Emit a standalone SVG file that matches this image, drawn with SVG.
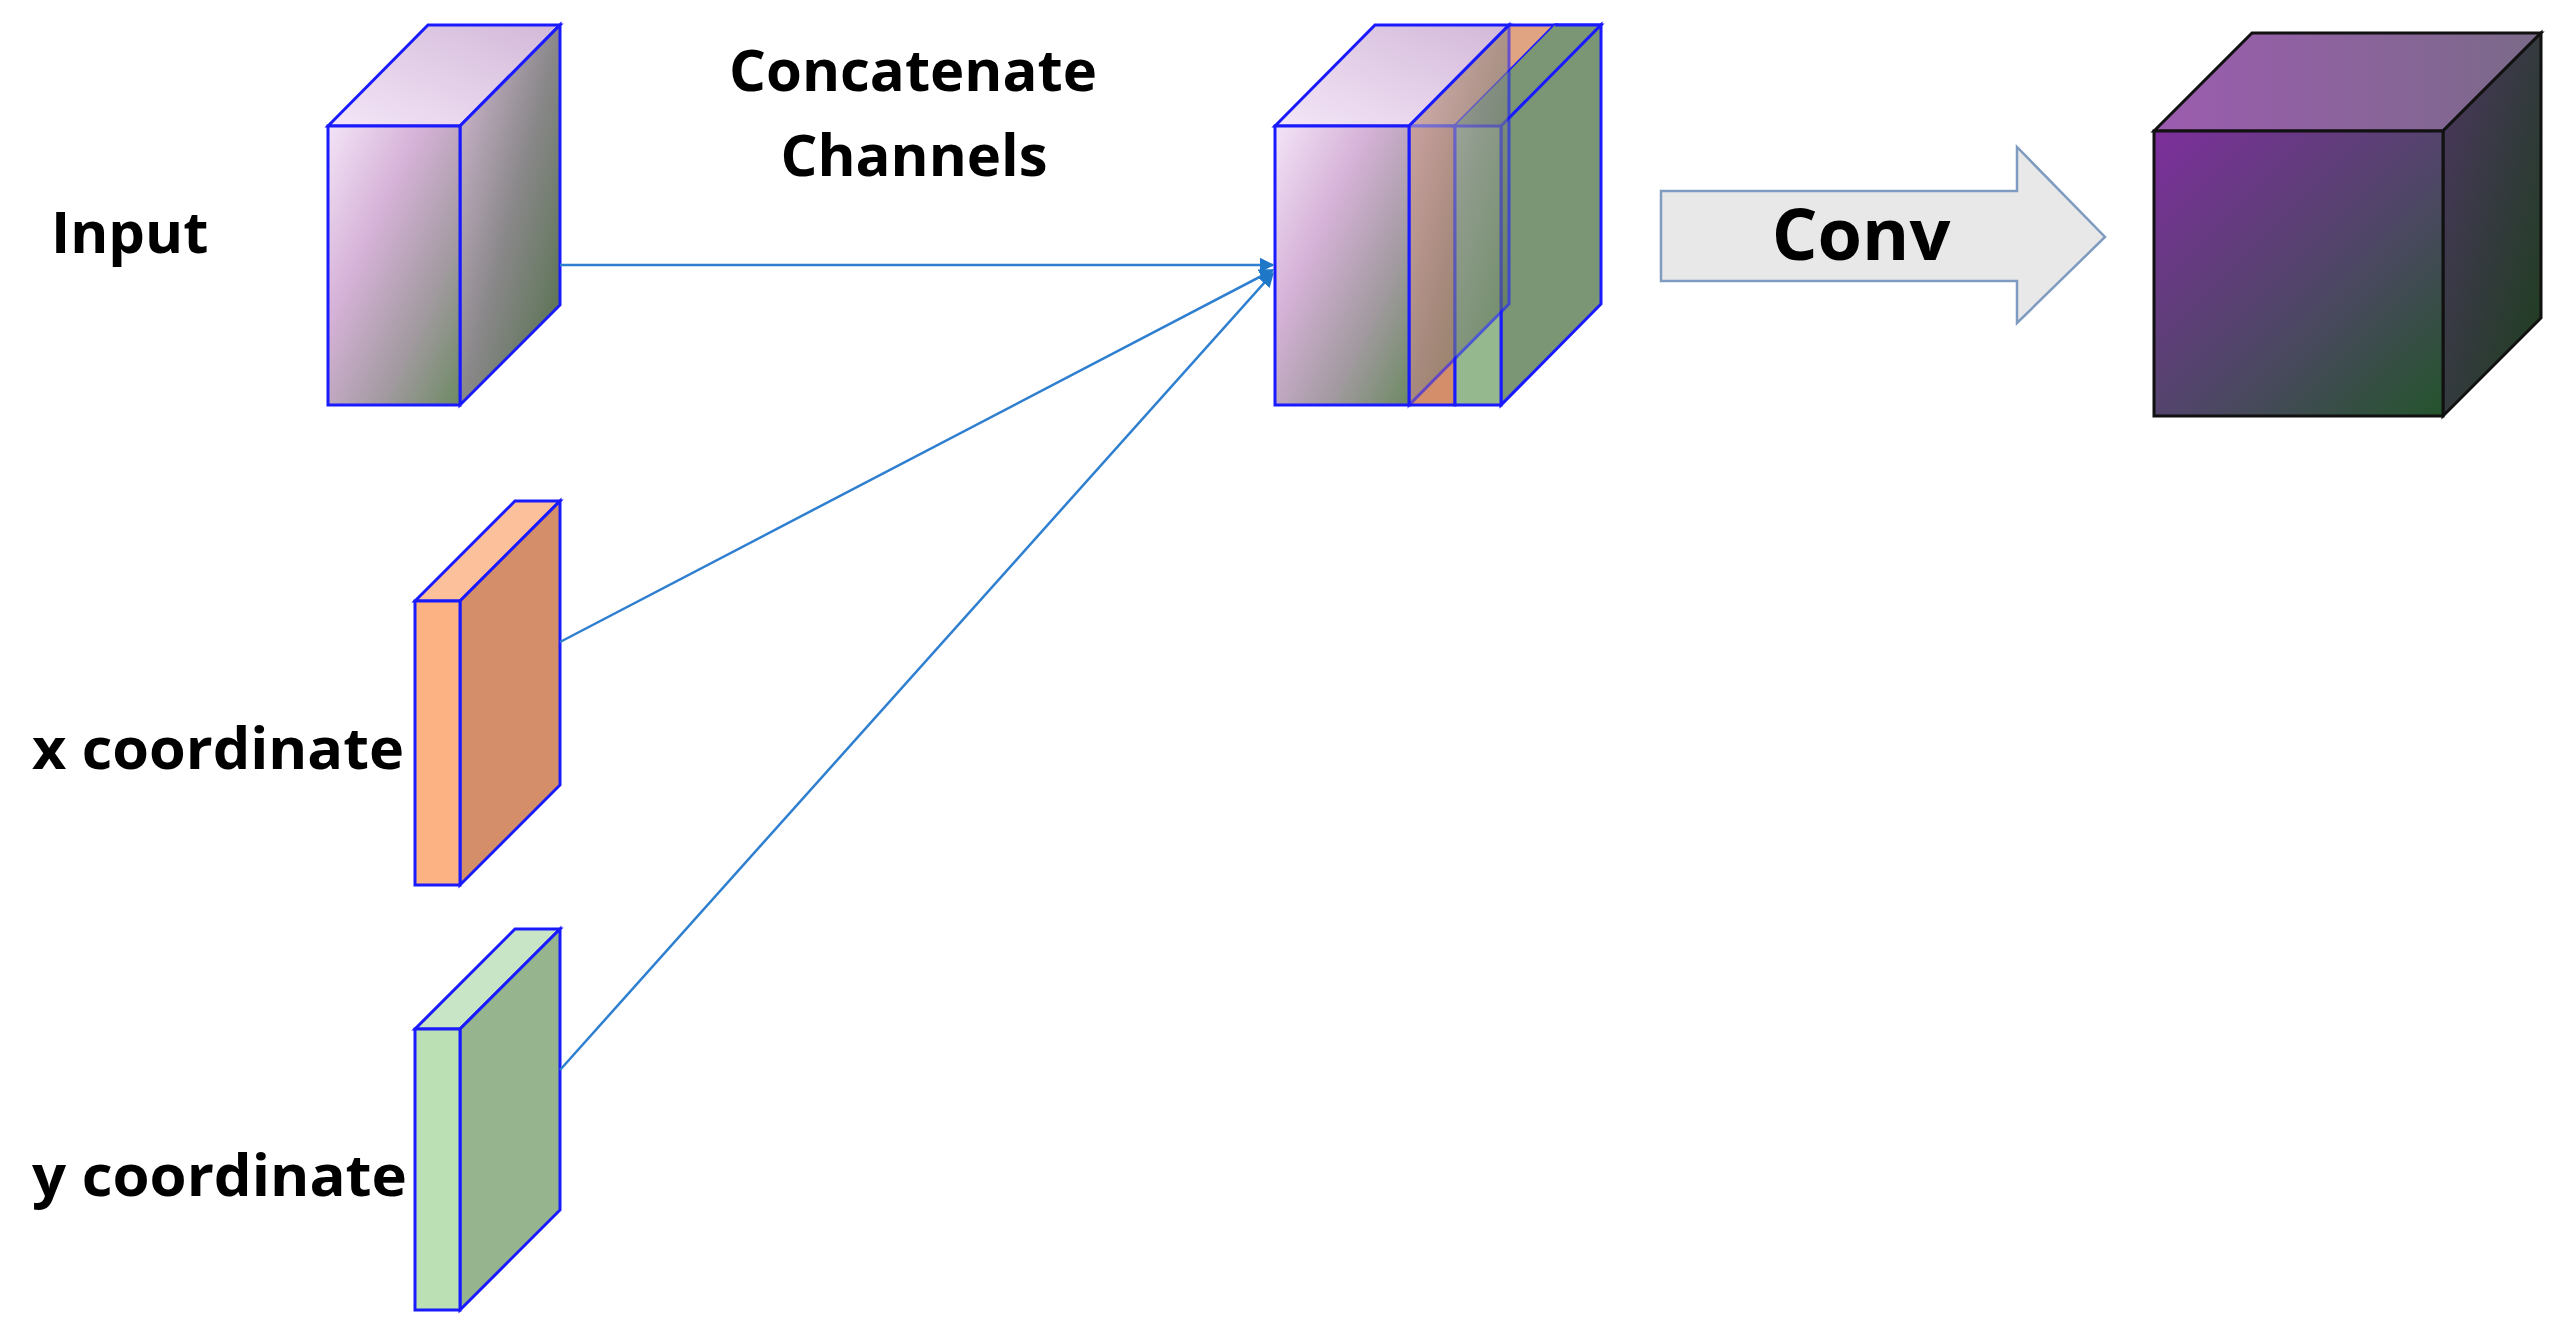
<svg xmlns="http://www.w3.org/2000/svg" width="2561" height="1332" viewBox="0 0 2561 1332">
<defs>
<linearGradient id="pf" x1="0" y1="0" x2="1" y2="1"><stop offset="0" stop-color="#f3e4f7"/><stop offset="0.35" stop-color="#d6b2d8"/><stop offset="0.7" stop-color="#a29aa0"/><stop offset="1" stop-color="#6c8a62"/></linearGradient>
<linearGradient id="pr" x1="0" y1="0" x2="1" y2="1"><stop offset="0" stop-color="#d8bcd8"/><stop offset="0.5" stop-color="#8a888a"/><stop offset="1" stop-color="#4f6e46"/></linearGradient>
<linearGradient id="pt" x1="0" y1="1" x2="1" y2="0"><stop offset="0" stop-color="#f4e6f8"/><stop offset="1" stop-color="#d2b8d8"/></linearGradient>
<linearGradient id="of" x1="0" y1="0" x2="1" y2="1"><stop offset="0" stop-color="#7d2e9c"/><stop offset="0.55" stop-color="#504668"/><stop offset="1" stop-color="#24542c"/></linearGradient>
<linearGradient id="ot" x1="0" y1="0" x2="1" y2="0"><stop offset="0" stop-color="#9c5cb0"/><stop offset="1" stop-color="#7a6a88"/></linearGradient>
<linearGradient id="or" x1="0" y1="0" x2="1" y2="1"><stop offset="0" stop-color="#4c3660"/><stop offset="1" stop-color="#1c3e1c"/></linearGradient>
<marker id="ah" viewBox="0 0 10 10" refX="9" refY="5" markerWidth="6" markerHeight="6" orient="auto"><path d="M0,0 L10,5 L0,10 z" fill="#1f77c8"/></marker>
</defs>
<style>
.b{stroke:#1a1aff;stroke-width:3}
.t{font-family:"Open Sans","Liberation Sans",sans-serif;font-weight:bold;fill:#000}
.c{stroke:#2f7fd0;stroke-width:2.5;fill:none}
</style>
<g id="input">
<polygon class="b" points="328,126 428,25 560,25 460,126" fill="url(#pt)"/>
<polygon class="b" points="460,126 560,25 560,305 460,405" fill="url(#pr)"/>
<rect class="b" x="328" y="126" width="132" height="279" fill="url(#pf)"/>
</g>
<g id="xcoord">
<polygon class="b" points="415,601 515,501 560,501 460,601" fill="#fcc09a"/>
<polygon class="b" points="460,601 560,501 560,785 460,885" fill="#d48e6a"/>
<rect class="b" x="415" y="601" width="45" height="284" fill="#fdb283"/>
</g>
<g id="ycoord">
<polygon class="b" points="415,1029 515,929 560,929 460,1029" fill="#c8e6c6"/>
<polygon class="b" points="460,1029 560,929 560,1210 460,1310" fill="#96b48e"/>
<rect class="b" x="415" y="1029" width="45" height="281" fill="#bae0b4"/>
</g>
<g id="concat">
<polygon class="b" points="1409,126 1509,25 1555,25 1455,126" fill="#e0a482"/>
<rect class="b" x="1409" y="126" width="46" height="279" fill="#d48e6a"/>
<polygon class="b" points="1455,126 1555,25 1601,25 1501,126" fill="#a8c8a6"/>
<polygon points="1455,126 1555,25 1601,25 1601,304 1501,405 1455,405" fill="#7a9674"/>
<polygon class="b" points="1501,126 1601,25 1601,304 1501,405" fill="#7a9674"/>
<line class="b" x1="1555" y1="25" x2="1601" y2="25"/>
<rect class="b" x="1455" y="126" width="46" height="279" fill="#96b88e"/>
<polygon class="b" points="1275,126 1375,25 1509,25 1409,126" fill="url(#pt)"/>
<polygon class="b" points="1409,126 1509,25 1509,304 1409,405" fill="url(#pr)" opacity="0.6"/>
<rect class="b" x="1275" y="126" width="134" height="279" fill="url(#pf)"/>
</g>
<g id="conv">
<polygon points="1661,191 2017,191 2017,147 2105,237 2017,323 2017,281 1661,281" fill="#e8e8e8" stroke="#7f9cc0" stroke-width="2.5"/>
<text class="t" x="1861" y="260" font-size="72" text-anchor="middle">Conv</text>
</g>
<g id="output">
<polygon points="2154,131 2252,33 2541,33 2443,131" fill="url(#ot)" stroke="#111" stroke-width="3"/>
<polygon points="2443,131 2541,33 2541,318 2443,416" fill="url(#or)" stroke="#111" stroke-width="3"/>
<rect x="2154" y="131" width="289" height="285" fill="url(#of)" stroke="#111" stroke-width="3"/>
</g>
<g id="connectors">
<line class="c" x1="560" y1="265" x2="1273" y2="265" marker-end="url(#ah)"/>
<line class="c" x1="560" y1="642" x2="1273" y2="270" marker-end="url(#ah)"/>
<line class="c" x1="560" y1="1070" x2="1273" y2="273" marker-end="url(#ah)"/>
</g>
<g id="labels">
<text class="t" x="51" y="253" font-size="58">Input</text>
<text class="t" x="32" y="769" font-size="58" textLength="372" lengthAdjust="spacingAndGlyphs">x coordinate</text>
<text class="t" x="32" y="1196" font-size="58" textLength="375" lengthAdjust="spacingAndGlyphs">y coordinate</text>
<text class="t" x="913" y="91" font-size="58" text-anchor="middle">Concatenate</text>
<text class="t" x="914" y="176" font-size="58" text-anchor="middle">Channels</text>
</g>
</svg>
